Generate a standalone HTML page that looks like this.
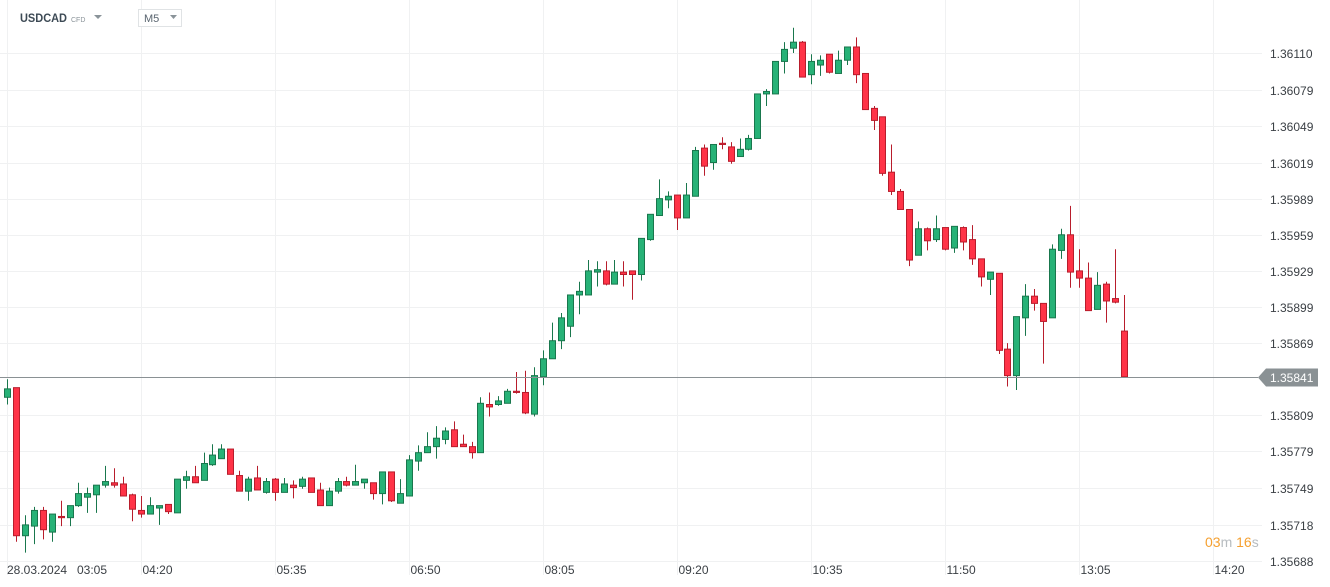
<!DOCTYPE html>
<html><head><meta charset="utf-8"><style>
body{margin:0;background:#fff;width:1330px;height:587px;overflow:hidden;font-family:"Liberation Sans",sans-serif}
svg{display:block}
</style></head><body>
<svg id="chart" width="1330" height="587">
<g id="grid"></g>
<g id="candles"></g>
<g id="axes"></g>
<g>
 <text x="20" y="22" font-size="12" font-weight="bold" fill="#3d4a55" textLength="47" lengthAdjust="spacingAndGlyphs">USDCAD</text>
 <text x="71" y="22" font-size="7" fill="#8a9399">CFD</text>
 <path d="M94 15 L102 15 L98 19 Z" fill="#8a9399"/>
 <rect x="138.5" y="9.5" width="43" height="17" fill="#fff" stroke="#e0e3e5"/>
 <text x="144" y="22" font-size="11" fill="#5a6570">M5</text>
 <path d="M170 15 L177 15 L173.5 19 Z" fill="#8a9399"/>
</g>
<text x="1205" y="547" font-size="14"><tspan fill="#f5a030">03</tspan><tspan fill="#b7bcc0">m </tspan><tspan fill="#f5a030">16</tspan><tspan fill="#b7bcc0">s</tspan></text>
</svg>
<script>
const opens=[1.35824,1.35832,1.35709,1.35717,1.35730,1.35712,1.35725,1.35724,1.35734,1.35741,1.35743,1.35751,1.35753,1.35752,1.35743,1.35730,1.35727,1.35732,1.35735,1.35728,1.35755,1.35758,1.35755,1.35768,1.35773,1.35781,1.35759,1.35746,1.35757,1.35745,1.35756,1.35745,1.35751,1.35750,1.35757,1.35747,1.35734,1.35746,1.35754,1.35751,1.35753,1.35753,1.35744,1.35762,1.35736,1.35742,1.35771,1.35778,1.35783,1.35789,1.35797,1.35785,1.35783,1.35778,1.35818,1.35818,1.35819,1.35829,1.35828,1.35810,1.35841,1.35856,1.35871,1.35883,1.35909,1.35909,1.35928,1.35929,1.35918,1.35928,1.35929,1.35926,1.35955,1.35975,1.35988,1.35992,1.35973,1.35991,1.36031,1.36019,1.36035,1.36032,1.36024,1.36030,1.36039,1.36076,1.36076,1.36103,1.36114,1.36119,1.36092,1.36100,1.36109,1.36093,1.36104,1.36115,1.36093,1.36064,1.36057,1.36011,1.35995,1.35980,1.35942,1.35964,1.35955,1.35965,1.35948,1.35965,1.35955,1.35939,1.35922,1.35927,1.35864,1.35842,1.35890,1.35908,1.35902,1.35890,1.35946,1.35959,1.35929,1.35923,1.35897,1.35918,1.35906,1.35879];
const highs=[1.35839,1.35832,1.35726,1.35733,1.35733,1.35727,1.35738,1.35734,1.35753,1.35749,1.35751,1.35767,1.35765,1.35758,1.35744,1.35742,1.35741,1.35734,1.35735,1.35756,1.35763,1.35767,1.35778,1.35785,1.35785,1.35781,1.35763,1.35758,1.35767,1.35757,1.35757,1.35757,1.35755,1.35758,1.35757,1.35753,1.35749,1.35757,1.35758,1.35768,1.35756,1.35753,1.35762,1.35762,1.35756,1.35776,1.35784,1.35795,1.35800,1.35799,1.35804,1.35793,1.35787,1.35824,1.35828,1.35825,1.35831,1.35845,1.35846,1.35849,1.35863,1.35886,1.35894,1.35909,1.35920,1.35938,1.35937,1.35937,1.35938,1.35937,1.35929,1.35956,1.35976,1.36005,1.35995,1.35992,1.36002,1.36032,1.36034,1.36034,1.36040,1.36036,1.36039,1.36042,1.36076,1.36080,1.36103,1.36119,1.36131,1.36120,1.36109,1.36108,1.36109,1.36112,1.36115,1.36123,1.36093,1.36066,1.36057,1.36034,1.35997,1.35980,1.35970,1.35965,1.35975,1.35965,1.35966,1.35966,1.35967,1.35939,1.35928,1.35927,1.35869,1.35891,1.35918,1.35914,1.35902,1.35951,1.35964,1.35983,1.35947,1.35936,1.35928,1.35920,1.35947,1.35909];
const lows=[1.35818,1.35704,1.35695,1.35702,1.35706,1.35704,1.35717,1.35717,1.35733,1.35728,1.35728,1.35749,1.35749,1.35742,1.35721,1.35724,1.35727,1.35718,1.35727,1.35728,1.35748,1.35753,1.35755,1.35767,1.35773,1.35760,1.35746,1.35738,1.35747,1.35744,1.35738,1.35745,1.35740,1.35748,1.35745,1.35734,1.35734,1.35744,1.35750,1.35751,1.35748,1.35739,1.35735,1.35737,1.35736,1.35742,1.35763,1.35778,1.35773,1.35785,1.35783,1.35783,1.35773,1.35778,1.35808,1.35817,1.35819,1.35827,1.35810,1.35808,1.35834,1.35856,1.35864,1.35874,1.35893,1.35909,1.35916,1.35917,1.35918,1.35916,1.35905,1.35921,1.35954,1.35975,1.35981,1.35963,1.35973,1.35991,1.36008,1.36013,1.36030,1.36018,1.36024,1.36029,1.36039,1.36066,1.36076,1.36093,1.36110,1.36090,1.36084,1.36091,1.36093,1.36093,1.36100,1.36085,1.36063,1.36046,1.36008,1.35992,1.35980,1.35933,1.35942,1.35946,1.35953,1.35946,1.35944,1.35946,1.35934,1.35916,1.35909,1.35860,1.35833,1.35830,1.35875,1.35896,1.35852,1.35890,1.35939,1.35915,1.35915,1.35896,1.35897,1.35886,1.35902,1.35841];
const closes=[1.35831,1.35709,1.35718,1.35730,1.35714,1.35727,1.35724,1.35734,1.35744,1.35744,1.35751,1.35754,1.35751,1.35742,1.35731,1.35727,1.35734,1.35734,1.35729,1.35756,1.35758,1.35753,1.35769,1.35776,1.35781,1.35760,1.35746,1.35756,1.35747,1.35754,1.35745,1.35752,1.35749,1.35756,1.35745,1.35734,1.35746,1.35754,1.35751,1.35754,1.35756,1.35744,1.35762,1.35738,1.35744,1.35772,1.35778,1.35783,1.35790,1.35796,1.35783,1.35783,1.35778,1.35819,1.35816,1.35821,1.35829,1.35828,1.35811,1.35842,1.35856,1.35871,1.35890,1.35909,1.35912,1.35929,1.35930,1.35918,1.35928,1.35926,1.35926,1.35956,1.35976,1.35989,1.35991,1.35973,1.35992,1.36029,1.36016,1.36034,1.36034,1.36020,1.36030,1.36039,1.36076,1.36078,1.36103,1.36113,1.36119,1.36090,1.36103,1.36104,1.36094,1.36104,1.36115,1.36092,1.36063,1.36054,1.36010,1.35995,1.35980,1.35938,1.35964,1.35954,1.35964,1.35947,1.35966,1.35953,1.35939,1.35924,1.35928,1.35863,1.35842,1.35891,1.35908,1.35902,1.35887,1.35947,1.35959,1.35928,1.35923,1.35896,1.35917,1.35904,1.35903,1.35841];
const yTicks=[1.36110,1.36079,1.36049,1.36019,1.35989,1.35959,1.35929,1.35899,1.35869,1.35809,1.35779,1.35749,1.35718,1.35688];
const xTickLabels=["04:20","05:35","06:50","08:05","09:20","10:35","11:50","13:05","14:20"];
const xTickIndex=[15,30,45,60,75,90,105,120,135];
const lastPrice=1.35841;

const NS="http://www.w3.org/2000/svg";
const X0=7, STEP=8.933;
function xs(i){return X0+i*STEP;}
function ys(p){return 53+(1.36110-p)*120379;}
function mk(tag,attrs,parent){const e=document.createElementNS(NS,tag);for(const k in attrs)e.setAttribute(k,attrs[k]);parent.appendChild(e);return e;}
const grid=document.getElementById('grid'),cg=document.getElementById('candles'),ax=document.getElementById('axes');

yTicks.forEach(v=>{
  const y=Math.round(ys(v))+0.5;
  const l=mk('line',{x1:0,x2:1262,y1:y,y2:y,stroke:'#f0f1f2','stroke-width':1},grid);
  
  
  const t=mk('text',{x:1270,y:y+4.5,'font-size':12,fill:'#3a3f44'},ax);
  t.textContent=v.toFixed(5);
  
  
});
xTickIndex.forEach((idx,k)=>{
  const x=Math.round(xs(idx))+0.5;
  const l=mk('line',{x1:x,x2:x,y1:0,y2:575,stroke:'#f0f1f2','stroke-width':1},grid);
  
  
  const t=mk('text',{x:x+1,y:574,'font-size':12,fill:'#3a3f44'},ax);
  t.textContent=xTickLabels[k];
  
  
});
{
  const l=mk('line',{x1:7.5,x2:7.5,y1:0,y2:575,stroke:'#f0f1f2'},grid);
  
  
  const t=mk('text',{x:7,y:574,'font-size':12,fill:'#3a3f44'},ax);
  t.textContent='28.03.2024';
  
  
  const t2=mk('text',{x:77,y:574,'font-size':12,fill:'#3a3f44'},ax);
  t2.textContent='03:05';
  
  
}

{
  const y=Math.round(ys(lastPrice))+0.5;
  const l=mk('line',{x1:0,x2:1258,y1:y,y2:y,stroke:'#8a9194','stroke-width':1},ax);
  
  
  const b=mk('path',{d:`M1258 ${y} L1266 ${y-9} L1318 ${y-9} L1318 ${y+9} L1266 ${y+9} Z`,fill:'#8a9194'},ax);
  
  
  const t=mk('text',{x:1270,y:y+4.5,'font-size':12,fill:'#fff'},ax);
  t.textContent=lastPrice.toFixed(5);
  
  
}

for(let i=0;i<opens.length;i++){
  const o=opens[i],c=closes[i],h=highs[i],lo=lows[i];
  const up=c>=o;
  const x=Math.round(xs(i));
  const fill=up?'#27b277':'#ff3347', st=up?'#19774d':'#b81d2c';
  const g=mk('g',{},cg);
  
  
  mk('line',{x1:x+0.5,x2:x+0.5,y1:ys(h),y2:ys(lo),stroke:st,'stroke-width':1},g);
  const top=ys(Math.max(o,c)), bot=ys(Math.min(o,c));
  mk('rect',{x:x-2.5,y:top,width:6,height:Math.max(1,bot-top),fill:fill,stroke:st,'stroke-width':1},g);
}
</script>
</body></html>
